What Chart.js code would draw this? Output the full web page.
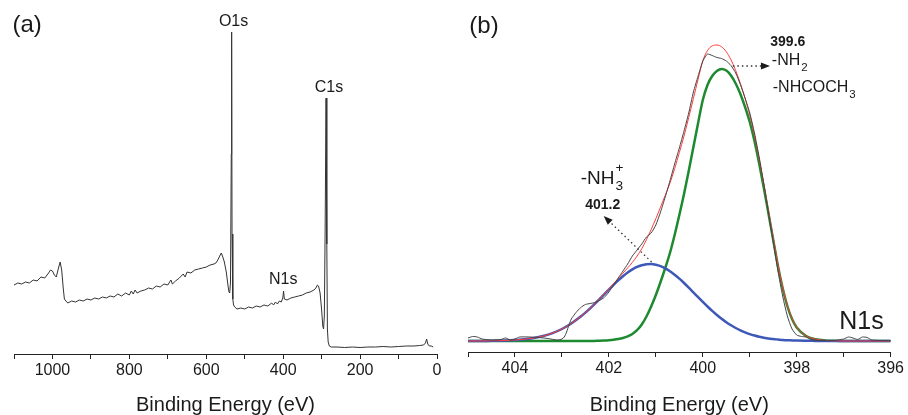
<!DOCTYPE html>
<html lang="en">
<head>
<meta charset="UTF-8">
<title>XPS survey and N1s</title>
<script src="https://cdn.jsdelivr.net/npm/chart.js"></script>
<style>
  body { margin: 0; background: #fff; }
  canvas { position: absolute; top: 0; }
</style>
</head>
<body>
<canvas id="survey" width="454" height="415" style="left:0"></canvas>
<canvas id="n1s" width="454" height="415" style="left:454px"></canvas>
<script>
// (a) survey spectrum, binding energy (eV) and intensity (a.u.)
const surveyEnergy = [
  1100, 1090, 1080, 1070, 1060, 1050, 1040, 1030, 1020, 1010,
  1005, 1000, 995, 990, 985, 980, 976, 972, 969, 965,
  960, 950, 940, 930, 920, 910, 900, 890, 880, 870,
  860, 850, 840, 830, 820, 810, 800, 795, 790, 785,
  780, 770, 760, 750, 740, 730, 720, 710, 700, 692,
  688, 680, 670, 660, 655, 650, 640, 630, 620, 610,
  600, 590, 580, 575, 570, 565, 561, 557, 553, 548,
  544, 541, 539, 537, 535, 534, 533, 531, 529, 526,
  520, 510, 500, 490, 480, 470, 460, 450, 440, 430,
  425, 420, 415, 410, 405, 401, 399, 397, 390, 380,
  370, 360, 350, 340, 330, 320, 315, 311, 308, 304,
  300, 297, 295, 293, 291, 288.5, 286.5, 285, 283, 280,
  275, 260, 240, 220, 200, 180, 160, 140, 120, 100,
  80, 60, 45, 35, 30, 27, 24, 20, 15, 10
];
const surveyCounts = [
  69, 71, 70, 72, 71, 74, 73, 77, 76, 81,
  84, 83, 79, 77, 85, 92, 84, 66, 55, 53,
  51, 53, 52, 54, 53, 55, 54, 56, 55, 57,
  56, 58, 57, 60, 58, 61, 59, 63, 60, 64,
  61, 63, 64, 66, 65, 68, 67, 70, 69, 74,
  70, 73, 76, 80, 77, 82, 81, 84, 85, 86,
  87, 89, 90, 91, 94, 98, 101, 97, 92, 82,
  70, 62, 61, 72, 200, 322, 120, 55, 49, 47,
  45, 46, 45, 47, 46, 48, 47, 49, 48, 51,
  49, 52, 50, 53, 52, 56, 63, 55, 54, 56,
  57, 58, 59, 61, 62, 64, 66, 69, 68, 61,
  44, 28, 25, 38, 120, 256, 110, 25, 12, 8,
  7, 7, 6.5, 7, 6.5, 7, 7, 7.5, 7, 7.5,
  8, 8, 8.5, 9, 11, 15, 10, 8, 8, 7
];

// (b) N1s region: measured curve
const energyRaw = [
  405.0, 404.9, 404.8, 404.7, 404.5, 404.3, 404.2, 404.1, 404.0, 403.9,
  403.7, 403.5, 403.3, 403.1, 403.0, 402.95, 402.9, 402.85, 402.8, 402.7,
  402.6, 402.5, 402.4, 402.3, 402.2, 402.1, 402.0, 401.9, 401.8, 401.7,
  401.6, 401.5, 401.4, 401.3, 401.2, 401.1, 401.0, 400.9, 400.8, 400.7,
  400.6, 400.5, 400.4, 400.3, 400.2, 400.1, 400.0, 399.95, 399.9, 399.8,
  399.7, 399.6, 399.5, 399.4, 399.3, 399.2, 399.1, 399.0, 398.9, 398.8,
  398.7, 398.6, 398.5, 398.4, 398.3, 398.2, 398.1, 398.0, 397.9, 397.8,
  397.7, 397.5, 397.2, 397.0, 396.9, 396.8, 396.7, 396.6, 396.5, 396.4,
  396.2, 396.0
];
const countsRaw = [
  3, 4.5, 4, 2, 1, 1.5, 3, 1, 2, 4,
  4, 3.5, 2.5, 1, 2, 4, 9, 16, 22, 28.5,
  33.5, 36.5, 37.5, 38.5, 40.5, 43.5, 49, 56, 63, 70,
  77, 85, 91, 97, 104, 108, 116, 129, 144, 160,
  177, 193, 210, 228, 249, 265, 280, 284, 287, 285.5,
  283.5, 282.5, 280, 275.5, 268, 256.5, 243, 228, 208, 184,
  157, 128, 99, 70, 45, 25, 12, 6, 4.5, 4,
  1.5, 0.5, 0.5, 2, 4, 3, 1.5, 4, 3.5, 1,
  0.5, 0.5
];

// (b) fitted components and envelope
const energyFit = [
  405.0, 404.6, 404.4, 404.2, 404.0, 403.8, 403.6, 403.4, 403.2, 403.0,
  402.8, 402.6, 402.5, 402.4, 402.3, 402.2, 402.1, 402.0, 401.9, 401.8,
  401.7, 401.6, 401.5, 401.4, 401.3, 401.2, 401.1, 401.0, 400.9, 400.8,
  400.7, 400.6, 400.5, 400.4, 400.3, 400.2, 400.1, 400.0, 399.9, 399.8,
  399.7, 399.6, 399.5, 399.4, 399.3, 399.2, 399.1, 399.0, 398.9, 398.8,
  398.7, 398.6, 398.5, 398.4, 398.3, 398.2, 398.1, 398.0, 397.8, 397.6,
  397.4, 397.2, 397.0, 396.6, 396.0
];
const peakNH2 = [
  0, 0, 0, 0, 0, 0, 0, 0, 0, 0,
  0, 0, 0, 0, 0.1, 0.2, 0.4, 0.7, 1.2, 1.9,
  3.0, 4.6, 7.0, 10.8, 16.5, 24.5, 34.5, 46, 59, 73,
  88, 106, 126, 147, 170, 194, 218, 241, 256, 265,
  270, 272, 270.5, 265.5, 257.5, 247, 234, 219, 200, 177.5,
  153, 127, 101, 75, 53, 35, 22, 13.5, 5, 1.8,
  0.6, 0.2, 0, 0, 0
];
const peakNH3 = [
  0, 0.1, 0.3, 0.5, 1.0, 1.7, 3.0, 5.0, 7.9, 12.0,
  17.5, 24.4, 28.4, 32.7, 37.2, 41.9, 46.7, 51.5, 56.2, 60.7,
  64.8, 68.5, 71.6, 74.1, 75.8, 76.8, 77.0, 76.3, 74.9, 72.7,
  69.8, 66.3, 62.4, 58.0, 53.4, 48.6, 43.8, 39.1, 34.5, 30.1,
  26.0, 22.2, 18.8, 15.7, 13.0, 10.6, 8.6, 6.9, 5.5, 4.3,
  3.3, 2.6, 1.9, 1.5, 1.1, 0.8, 0.6, 0.4, 0.2, 0.1,
  0, 0, 0, 0, 0
];
const envelope = [
  0, 0.1, 0.3, 0.5, 1.0, 1.7, 3.0, 5.0, 7.9, 12.0,
  17.5, 24.4, 28.4, 32.7, 37.3, 42.1, 47.1, 52.2, 57.4, 62.6,
  67.8, 73.1, 78.6, 84.9, 92.3, 101.3, 111.5, 122.3, 133.9, 145.7,
  157.8, 172.3, 188.4, 205.0, 223.4, 242.6, 261.8, 280.1, 290.5, 295.1,
  296.0, 294.2, 289.3, 281.2, 270.5, 257.6, 242.6, 225.9, 205.5, 181.8,
  156.3, 129.6, 102.9, 76.5, 54.1, 35.8, 22.6, 13.9, 5.2, 1.9,
  0.6, 0.2, 0, 0, 0
];

const FONT = '"Liberation Sans", Arial, sans-serif';
Chart.defaults.font.family = FONT;
Chart.defaults.color = '#1a1a1a';

const pts = (xs, ys) => xs.map((v, i) => ({ x: v, y: ys[i] }));

// text and dotted arrows placed in data coordinates
const notes = {
  id: 'notes',
  afterDraw(chart, args, opts) {
    const { ctx, scales: { x, y } } = chart;
    ctx.save();
    ctx.fillStyle = '#1a1a1a';
    ctx.strokeStyle = '#333';
    for (const n of opts.items) {
      if (n.from) {
        const x1 = x.getPixelForValue(n.from[0]), y1 = y.getPixelForValue(n.from[1]);
        const x2 = x.getPixelForValue(n.to[0]), y2 = y.getPixelForValue(n.to[1]);
        const a = Math.atan2(y2 - y1, x2 - x1), hl = 9, hw = 3.5;
        ctx.setLineDash([1.5, 3]);
        ctx.lineWidth = 1.3;
        ctx.beginPath();
        ctx.moveTo(x1, y1);
        ctx.lineTo(x2 - hl * Math.cos(a), y2 - hl * Math.sin(a));
        ctx.stroke();
        ctx.setLineDash([]);
        ctx.beginPath();
        ctx.moveTo(x2, y2);
        ctx.lineTo(x2 - hl * Math.cos(a) + hw * Math.sin(a), y2 - hl * Math.sin(a) - hw * Math.cos(a));
        ctx.lineTo(x2 - hl * Math.cos(a) - hw * Math.sin(a), y2 - hl * Math.sin(a) + hw * Math.cos(a));
        ctx.closePath();
        ctx.fill();
        continue;
      }
      const f = s => (n.bold ? 'bold ' : '') + s + 'px ' + FONT;
      const px = x.getPixelForValue(n.at[0]), py = y.getPixelForValue(n.at[1]);
      ctx.font = f(n.size);
      const w = ctx.measureText(n.text).width;
      ctx.font = f(n.size * 0.72);
      const sw = n.sub ? ctx.measureText(n.sub).width : 0;
      const x0 = n.left ? px : px - (w + sw) / 2;
      ctx.textAlign = 'left';
      ctx.textBaseline = 'middle';
      ctx.font = f(n.size);
      ctx.fillText(n.text, x0, py);
      ctx.font = f(n.size * 0.72);
      if (n.sub) ctx.fillText(n.sub, x0 + w + 1, py + n.size * 0.4);
      if (n.sup) ctx.fillText(n.sup, x0 + w + 1, py - n.size * 0.55);
    }
    ctx.restore();
  }
};

function xAxis(min, max, step, every, height) {
  return {
    type: 'linear', reverse: true, min: min, max: max,
    afterFit: s => { s.height = height; },
    border: { display: true, color: '#222', width: 1 },
    grid: { display: true, drawOnChartArea: false, drawTicks: true, tickLength: 5, tickColor: '#222' },
    ticks: {
      stepSize: step, autoSkip: false, maxRotation: 0, padding: 4,
      font: { size: 16, lineHeight: 1 },
      callback: v => (v % every === 0 ? String(v) : '')
    },
    title: { display: true, text: 'Binding Energy (eV)', font: { size: 20, lineHeight: 1 }, padding: { top: 0, bottom: 0 } }
  };
}

new Chart(document.getElementById('survey'), {
  type: 'scatter',
  data: {
    datasets: [{
      data: pts(surveyEnergy, surveyCounts),
      showLine: true, borderColor: '#333', borderWidth: 1, pointRadius: 0, tension: 0
    }]
  },
  options: {
    responsive: false, animation: false,
    layout: { padding: { left: 14, right: 17, top: 20, bottom: 0 } },
    scales: {
      x: xAxis(0, 1100, 100, 200, 61),
      y: { display: false, min: 0, max: 334 }
    },
    plugins: {
      legend: { display: false }, tooltip: { enabled: false },
      notes: {
        items: [
          { text: '(a)', size: 24, at: [1066, 329] },
          { text: 'O1s', size: 16, at: [529, 332] },
          { text: 'C1s', size: 16, at: [281, 266] },
          { text: 'N1s', size: 16, at: [400, 74] }
        ]
      }
    }
  },
  plugins: [notes]
});

const fitLine = (ys, color, width) => ({
  data: pts(energyFit, ys), showLine: true, borderColor: color, borderWidth: width,
  pointRadius: 0, cubicInterpolationMode: 'monotone'
});

new Chart(document.getElementById('n1s'), {
  type: 'scatter',
  data: {
    datasets: [
      { data: pts(energyRaw, countsRaw), showLine: true, borderColor: '#444', borderWidth: 1, pointRadius: 0, tension: 0.2 },
      fitLine(envelope, '#ff3b3b', 1),
      fitLine(peakNH3, '#3d58b6', 2.5),
      fitLine(peakNH2, '#1d8a2f', 2.5)
    ]
  },
  options: {
    responsive: false, animation: false,
    layout: { padding: { left: 14, right: 16, top: 20, bottom: 0 } },
    scales: {
      x: xAxis(396, 405, 1, 2, 63),
      y: { display: false, min: -11, max: 321 }
    },
    plugins: {
      legend: { display: false }, tooltip: { enabled: false },
      notes: {
        items: [
          { text: '(b)', size: 24, at: [404.66, 315] },
          { text: '399.6', size: 14, bold: true, at: [398.19, 299] },
          { text: '-NH', sub: '2', size: 16, left: true, at: [398.53, 280] },
          { text: '-NHCOCH', sub: '3', size: 16, left: true, at: [398.51, 253] },
          { from: [399.36, 275], to: [398.57, 275] },
          { text: '-NH', sub: '3', sup: '+', size: 19, left: true, at: [402.6, 162] },
          { text: '401.2', size: 14, bold: true, at: [402.13, 136] },
          { from: [401.09, 79], to: [402.11, 125] },
          { text: 'N1s', size: 25, at: [396.62, 19] }
        ]
      }
    }
  },
  plugins: [notes]
});
</script>
</body>
</html>
